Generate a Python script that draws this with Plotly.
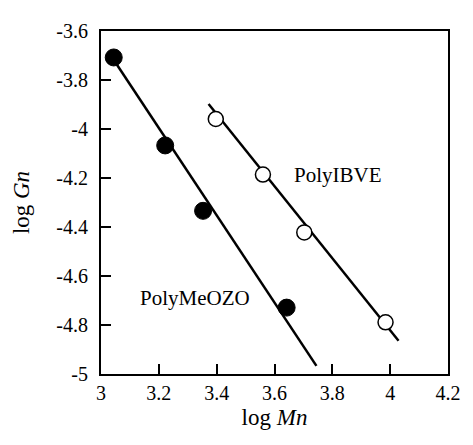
import plotly.graph_objects as go

# Data
meozo_log_mn = [3.044, 3.222, 3.353, 3.642]
meozo_log_gn = [-3.708, -4.067, -4.334, -4.729]
ibve_log_mn = [3.397, 3.560, 3.703, 3.984]
ibve_log_gn = [-3.959, -4.186, -4.422, -4.789]

# Fitted lines (endpoints)
meozo_fit_x = [3.034, 3.745]
meozo_fit_y = [-3.700, -4.967]
ibve_fit_x = [3.372, 4.029]
ibve_fit_y = [-3.898, -4.864]

x_ticks = [3, 3.2, 3.4, 3.6, 3.8, 4, 4.2]
x_tick_text = ["3", "3.2", "3.4", "3.6", "3.8", "4", "4.2"]
y_ticks = [-3.6, -3.8, -4, -4.2, -4.4, -4.6, -4.8, -5]
y_tick_text = ["-3.6", "-3.8", "-4", "-4.2", "-4.4", "-4.6", "-4.8", "-5"]

FONT = "Liberation Serif, Times New Roman, serif"

fig = go.Figure()
fig.add_trace(go.Scatter(x=meozo_fit_x, y=meozo_fit_y, mode="lines",
                         line=dict(color="black", width=2.5), showlegend=False))
fig.add_trace(go.Scatter(x=ibve_fit_x, y=ibve_fit_y, mode="lines",
                         line=dict(color="black", width=2.5), showlegend=False))
fig.add_trace(go.Scatter(x=meozo_log_mn, y=meozo_log_gn, mode="markers",
                         marker=dict(size=17, color="black", line=dict(color="black", width=1)),
                         showlegend=False))
fig.add_trace(go.Scatter(x=ibve_log_mn, y=ibve_log_gn, mode="markers",
                         marker=dict(size=15, color="white", line=dict(color="black", width=1.5)),
                         showlegend=False))

fig.add_annotation(x=3.82, y=-4.186, text="PolyIBVE", showarrow=False,
                   font=dict(family=FONT, size=21, color="black"))
fig.add_annotation(x=3.326, y=-4.689, text="PolyMeOZO", showarrow=False,
                   font=dict(family=FONT, size=21, color="black"))

fig.update_xaxes(range=[3, 4.2], tickvals=x_ticks, ticktext=x_tick_text,
                 ticks="inside", ticklen=10, tickwidth=1.5, tickcolor="black",
                 showline=True, linecolor="black", linewidth=2, mirror=True,
                 showgrid=False, zeroline=False,
                 tickfont=dict(family=FONT, size=20, color="black"),
                 title=dict(text="log <i>Mn</i>", font=dict(family=FONT, size=23, color="black"),
                            standoff=6))
fig.update_yaxes(range=[-5, -3.6], tickvals=y_ticks, ticktext=y_tick_text,
                 ticks="inside", ticklen=10, tickwidth=1.5, tickcolor="black",
                 ticklabelstandoff=7,
                 showline=True, linecolor="black", linewidth=2, mirror=True,
                 showgrid=False, zeroline=False,
                 tickfont=dict(family=FONT, size=20, color="black"),
                 title=dict(text="log <i>Gn</i>", font=dict(family=FONT, size=23, color="black"),
                            standoff=20))

# the page body adds an 8px margin, so the figure is 8px smaller on each side
fig.update_layout(width=465, height=437, plot_bgcolor="white", paper_bgcolor="white",
                  margin=dict(l=92, r=16, t=15, b=71))

fig.write_html("out.html")
